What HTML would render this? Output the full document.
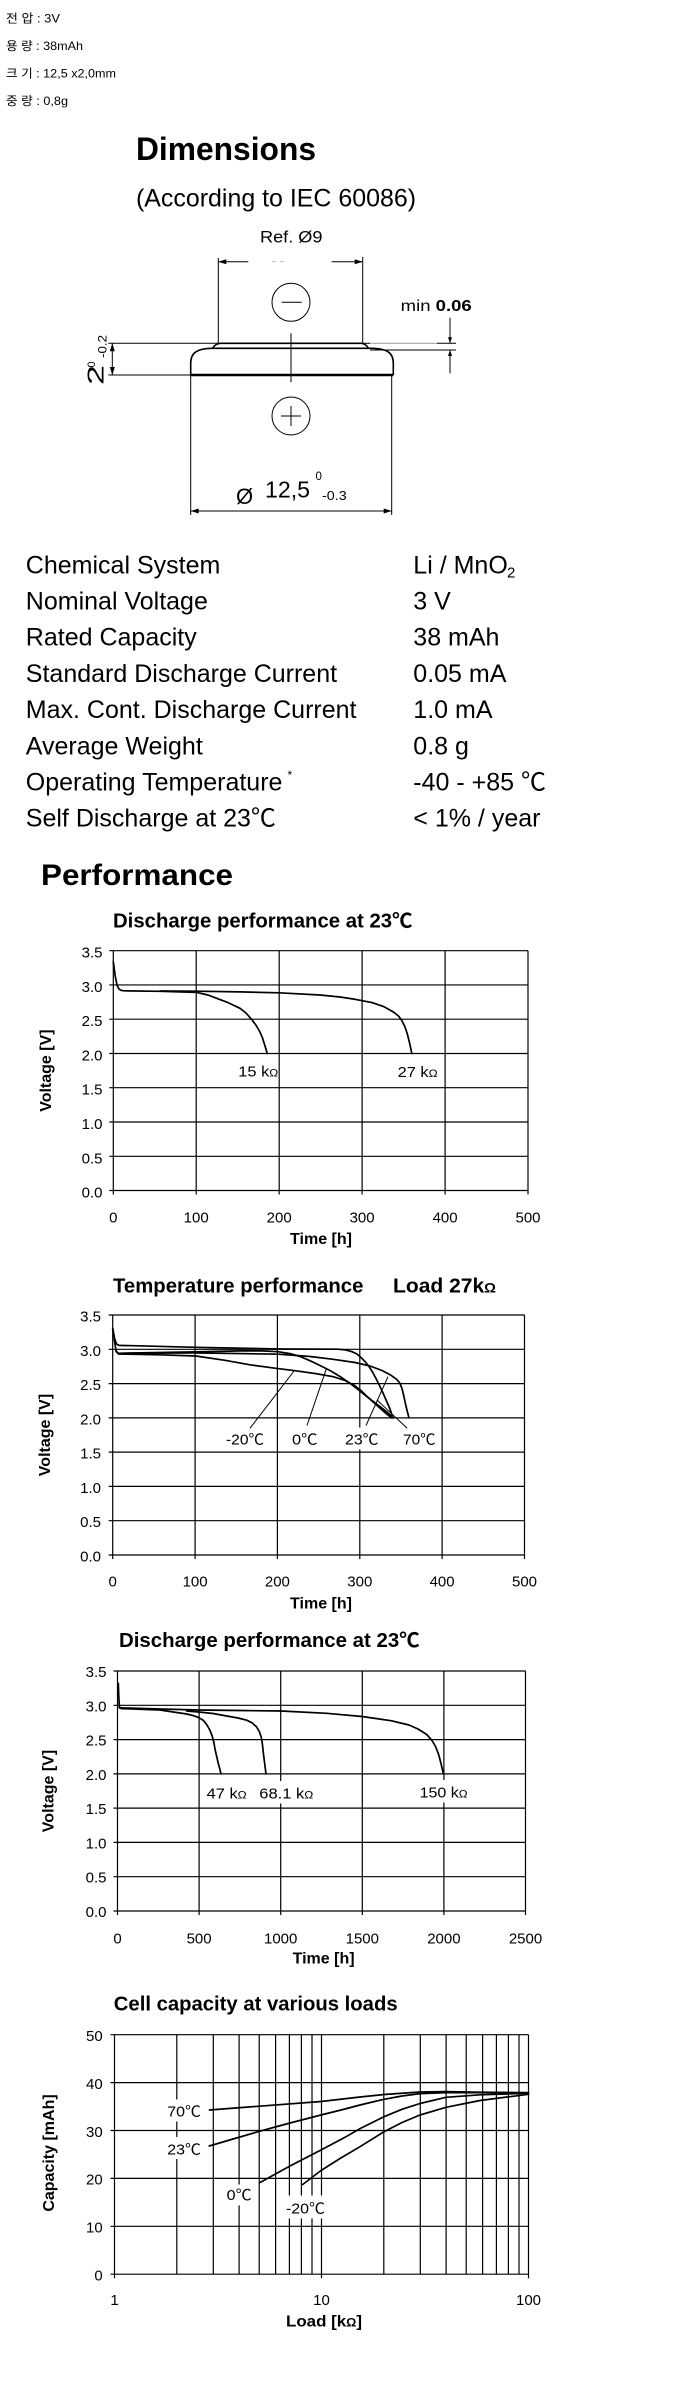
<!DOCTYPE html>
<html>
<head>
<meta charset="utf-8">
<style>
html,body{margin:0;padding:0;background:#fff;}
svg{display:block;}
text{font-family:"Liberation Sans","Noto Sans CJK KR",sans-serif;fill:#000;}
.b{font-weight:bold;}
.kr{font-family:"Liberation Sans","Noto Sans CJK KR",sans-serif;font-size:12px;}
.spec{font-size:25px;}
.tk{font-size:15px;}
.lb{font-size:15px;}
.grid line{stroke:#000;stroke-width:1.2;}
.crv{fill:none;stroke:#000;stroke-width:1.7;stroke-linejoin:round;stroke-linecap:round;}
.ld{stroke:#000;stroke-width:1;}
</style>
</head>
<body>
<svg width="700" height="2400" viewBox="0 0 700 2400" xmlns="http://www.w3.org/2000/svg">
<rect x="0" y="0" width="700" height="2400" fill="#fff"/>

<!-- Korean header -->
<text class="kr" x="6" y="22.7" textLength="54" lengthAdjust="spacingAndGlyphs">전 압 : 3V</text>
<text class="kr" x="6" y="50" textLength="77" lengthAdjust="spacingAndGlyphs">용 량 : 38mAh</text>
<text class="kr" x="6" y="77.5" textLength="110" lengthAdjust="spacingAndGlyphs">크 기 : 12,5 x2,0mm</text>
<text class="kr" x="6" y="104.8" textLength="62" lengthAdjust="spacingAndGlyphs">중 량 : 0,8g</text>

<!-- Dimensions -->
<text class="b" x="136" y="160" font-size="32" textLength="180" lengthAdjust="spacingAndGlyphs">Dimensions</text>
<text x="136" y="206.6" font-size="25" textLength="280" lengthAdjust="spacingAndGlyphs">(According to IEC 60086)</text>

<!-- Drawing -->
<text x="260" y="242.3" font-size="17" textLength="62.5" lengthAdjust="spacingAndGlyphs">Ref. Ø9</text>
<g stroke="#000" stroke-width="1" fill="none">
  <line x1="218.3" y1="258" x2="218.3" y2="343.3"/>
  <line x1="362.7" y1="257" x2="362.7" y2="343.3"/>
  <line x1="218.3" y1="261.7" x2="248.3" y2="261.7"/>
  <line x1="331.7" y1="261.7" x2="362.7" y2="261.7"/>
  <circle cx="291" cy="302.3" r="19"/>
  <line x1="281.7" y1="302.3" x2="301.7" y2="302.3"/>
  <circle cx="291" cy="416" r="19"/>
  <line x1="281" y1="416" x2="301" y2="416"/>
  <line x1="291" y1="406" x2="291" y2="426"/>
  <line x1="291" y1="333.3" x2="291" y2="382.3"/>
  <line x1="108.3" y1="343.3" x2="220" y2="343.3"/>
  <line x1="361.7" y1="343.3" x2="370" y2="343.3"/>
  <line x1="437" y1="343.3" x2="456" y2="343.3"/>
  <line x1="370" y1="350" x2="456" y2="350"/>
  <line x1="108.3" y1="375" x2="191" y2="375"/>
  <line x1="112.3" y1="343.3" x2="112.3" y2="375"/>
  <line x1="450" y1="317.7" x2="450" y2="343.3"/>
  <line x1="450" y1="350" x2="450" y2="373.3"/>
  <line x1="190.7" y1="375" x2="190.7" y2="515"/>
  <line x1="391.7" y1="375" x2="391.7" y2="515"/>
  <line x1="190.7" y1="511" x2="391.7" y2="511"/>
</g>
<line x1="370" y1="343.3" x2="437" y2="343.3" stroke="#999" stroke-width="1"/>
<line x1="272" y1="261.7" x2="276" y2="261.7" stroke="#bbb" stroke-width="1"/>
<line x1="280" y1="261.7" x2="284" y2="261.7" stroke="#bbb" stroke-width="1"/>
<!-- cap and body -->
<path d="M212.7,348 Q215,344 220,343.3 L361.7,343.3 Q366,344 368.3,348" fill="none" stroke="#000" stroke-width="1.6"/>
<path d="M190.7,375 L190.7,363 C190.7,352 198,348.6 212,348.3 L372,348.3 C386,348.6 393.3,352 393.3,363 L393.3,375" fill="none" stroke="#000" stroke-width="1.6"/>
<line x1="190.7" y1="375" x2="393.3" y2="375" stroke="#000" stroke-width="2.4"/>
<!-- arrowheads -->
<g fill="#000">
  <polygon points="218.3,261.7 226.3,259.2 226.3,264.2"/>
  <polygon points="362.7,261.7 354.7,259.2 354.7,264.2"/>
  <polygon points="112.3,343.3 109.8,351.3 114.8,351.3"/>
  <polygon points="112.3,375 109.8,367 114.8,367"/>
  <polygon points="450,343.3 448,337.3 452,337.3"/>
  <polygon points="450,350 448,356 452,356"/>
  <polygon points="190.7,511 198.7,508.5 198.7,513.5"/>
  <polygon points="391.7,511 383.7,508.5 383.7,513.5"/>
</g>
<text x="400.7" y="311" font-size="16" textLength="71" lengthAdjust="spacingAndGlyphs">min <tspan class="b">0.06</tspan></text>
<text transform="translate(103.3,385) rotate(-90)" font-size="23" textLength="20" lengthAdjust="spacingAndGlyphs">2</text>
<text transform="translate(95,367.5) rotate(-90)" font-size="11">0</text>
<text transform="translate(106.5,358) rotate(-90)" font-size="12" textLength="23" lengthAdjust="spacingAndGlyphs">-0.2</text>
<text x="236" y="504" font-size="22">Ø</text>
<text x="265" y="497.7" font-size="23" textLength="45" lengthAdjust="spacingAndGlyphs">12,5</text>
<text x="315.5" y="480" font-size="11.5">0</text>
<text x="322" y="500" font-size="12.5" textLength="24.7" lengthAdjust="spacingAndGlyphs">-0.3</text>

<!-- Spec table -->
<g class="spec">
<text x="25.8" y="573.3">Chemical System</text>
<text x="25.8" y="609.5">Nominal Voltage</text>
<text x="25.8" y="645.7">Rated Capacity</text>
<text x="25.8" y="681.9">Standard Discharge Current</text>
<text x="25.8" y="718.1">Max. Cont. Discharge Current</text>
<text x="25.8" y="754.3">Average Weight</text>
<text x="25.8" y="790.5">Operating Temperature</text>
<text x="25.8" y="826.7">Self Discharge at 23℃</text>
<text x="413.3" y="573.3">Li / MnO</text>
<text x="413.3" y="609.5">3 V</text>
<text x="413.3" y="645.7">38 mAh</text>
<text x="413.3" y="681.9">0.05 mA</text>
<text x="413.3" y="718.1">1.0 mA</text>
<text x="413.3" y="754.3">0.8 g</text>
<text x="413.3" y="790.5">-40 - +85 ℃</text>
<text x="413.3" y="826.7">&lt; 1% / year</text>
</g>
<text x="507" y="577.5" font-size="15">2</text>
<text x="287.5" y="779" font-size="12">*</text>

<!-- Performance -->
<text class="b" x="41" y="885" font-size="29.5" textLength="192" lengthAdjust="spacingAndGlyphs">Performance</text>

<!-- ============ CHART 1 ============ -->
<text class="b" x="113" y="927.3" font-size="20" textLength="299.4" lengthAdjust="spacingAndGlyphs">Discharge performance at 23℃</text>
<g class="grid">
  <line x1="109.3" y1="950.7" x2="528" y2="950.7"/>
  <line x1="109.3" y1="984.96" x2="528" y2="984.96"/>
  <line x1="109.3" y1="1019.2" x2="528" y2="1019.2"/>
  <line x1="109.3" y1="1053.5" x2="528" y2="1053.5"/>
  <line x1="109.3" y1="1087.7" x2="528" y2="1087.7"/>
  <line x1="109.3" y1="1122.0" x2="528" y2="1122.0"/>
  <line x1="109.3" y1="1156.3" x2="528" y2="1156.3"/>
  <line x1="109.3" y1="1190.5" x2="528" y2="1190.5"/>
  <line x1="113.3" y1="950.7" x2="113.3" y2="1194.5"/>
  <line x1="196.2" y1="950.7" x2="196.2" y2="1194.5"/>
  <line x1="279.2" y1="950.7" x2="279.2" y2="1194.5"/>
  <line x1="362.1" y1="950.7" x2="362.1" y2="1194.5"/>
  <line x1="445.1" y1="950.7" x2="445.1" y2="1194.5"/>
  <line x1="528" y1="950.7" x2="528" y2="1194.5"/>
</g>
<g class="tk" text-anchor="end">
  <text x="102.5" y="957.7">3.5</text>
  <text x="102.5" y="992">3.0</text>
  <text x="102.5" y="1026.2">2.5</text>
  <text x="102.5" y="1060.5">2.0</text>
  <text x="102.5" y="1094.7">1.5</text>
  <text x="102.5" y="1129">1.0</text>
  <text x="102.5" y="1163.3">0.5</text>
  <text x="102.5" y="1197.5">0.0</text>
</g>
<g class="tk" text-anchor="middle">
  <text x="113.3" y="1222.7">0</text>
  <text x="196.2" y="1222.7">100</text>
  <text x="279.2" y="1222.7">200</text>
  <text x="362.1" y="1222.7">300</text>
  <text x="445.1" y="1222.7">400</text>
  <text x="528" y="1222.7">500</text>
</g>
<text class="b" font-size="16" text-anchor="middle" transform="translate(51,1070.6) rotate(-90)">Voltage [V]</text>
<text class="b" font-size="16" text-anchor="middle" x="321" y="1243.8">Time [h]</text>
<polyline class="crv" points="113.3,961.7 115.2,976 117,985 118.8,988.8 121,990.3 124,990.8 160,991.3 196.7,992.4 208,995 216.7,998.3 228,1002.6 240,1008.3 246,1013 251.7,1019.5 256.2,1025.5 260,1032 262.5,1038 264.7,1045 267.3,1053.5"/>
<polyline class="crv" points="160,991 196.7,991.2 240,991.9 279.1,992.8 320,995 340,997 355.6,999.4 372,1002.6 384,1006.7 393,1011.7 398.5,1016 401.8,1020.5 404.8,1026.5 407.2,1033.5 409.6,1043 411.8,1053.5"/>
<text class="lb" x="238.3" y="1076.7" textLength="40" lengthAdjust="spacingAndGlyphs">15 k<tspan font-size="11">Ω</tspan></text>
<text class="lb" x="397.6" y="1077" textLength="40" lengthAdjust="spacingAndGlyphs">27 k<tspan font-size="11">Ω</tspan></text>

<!-- ============ CHART 2 ============ -->
<text class="b" x="113" y="1292.3" font-size="20" textLength="250.4" lengthAdjust="spacingAndGlyphs">Temperature performance</text>
<text class="b" x="393" y="1292.3" font-size="20" textLength="103" lengthAdjust="spacingAndGlyphs">Load 27k<tspan font-size="14">Ω</tspan></text>
<g class="grid">
  <line x1="108.7" y1="1315" x2="524.5" y2="1315"/>
  <line x1="108.7" y1="1349.3" x2="524.5" y2="1349.3"/>
  <line x1="108.7" y1="1383.6" x2="524.5" y2="1383.6"/>
  <line x1="108.7" y1="1417.9" x2="524.5" y2="1417.9"/>
  <line x1="108.7" y1="1452.1" x2="524.5" y2="1452.1"/>
  <line x1="108.7" y1="1486.4" x2="524.5" y2="1486.4"/>
  <line x1="108.7" y1="1520.7" x2="524.5" y2="1520.7"/>
  <line x1="108.7" y1="1555" x2="524.5" y2="1555"/>
  <line x1="112.7" y1="1315" x2="112.7" y2="1559"/>
  <line x1="195.1" y1="1315" x2="195.1" y2="1559"/>
  <line x1="277.4" y1="1315" x2="277.4" y2="1559"/>
  <line x1="359.8" y1="1315" x2="359.8" y2="1559"/>
  <line x1="442.1" y1="1315" x2="442.1" y2="1559"/>
  <line x1="524.5" y1="1315" x2="524.5" y2="1559"/>
</g>
<g class="tk" text-anchor="end">
  <text x="101" y="1321.5">3.5</text>
  <text x="101" y="1355.8">3.0</text>
  <text x="101" y="1390.1">2.5</text>
  <text x="101" y="1424.4">2.0</text>
  <text x="101" y="1458.6">1.5</text>
  <text x="101" y="1492.9">1.0</text>
  <text x="101" y="1527.2">0.5</text>
  <text x="101" y="1561.5">0.0</text>
</g>
<g class="tk" text-anchor="middle">
  <text x="112.7" y="1586.7">0</text>
  <text x="195.1" y="1586.7">100</text>
  <text x="277.4" y="1586.7">200</text>
  <text x="359.8" y="1586.7">300</text>
  <text x="442.1" y="1586.7">400</text>
  <text x="524.5" y="1586.7">500</text>
</g>
<text class="b" font-size="16" text-anchor="middle" transform="translate(50,1435) rotate(-90)">Voltage [V]</text>
<text class="b" font-size="16" text-anchor="middle" x="321" y="1608.3">Time [h]</text>
<rect x="343" y="1427.5" width="37.5" height="22" fill="#fff"/>
<polyline class="crv" points="112.7,1328.3 114.6,1338.5 116.5,1344 119,1345.4 133.3,1345.7 195.7,1347.3 278.3,1349 338,1349.2 346,1350 352,1351.7 357,1354 361,1357.5 365,1361.5 369,1366.5 372.5,1372 376,1378.5 379.5,1385.5 383,1393 386.5,1401 390,1409 393,1417.9"/>
<polyline class="crv" points="112.7,1328.3 114.5,1341 116.2,1351.5 118.5,1353.3 195.7,1352.9 278.3,1354.2 310,1356.5 333.3,1359.3 355,1362.5 370,1366 382,1370.5 391,1375.3 396.5,1379.2 399.8,1383 402,1388.5 403.8,1396 405.5,1404 407.2,1411 409,1417.9"/>
<polyline class="crv" points="116.2,1351.5 118.5,1353.3 195.7,1351.9 240,1350.9 262,1350.9 278,1351.7 290,1353.6 300,1356.5 310,1360.7 320,1365.5 330,1370.5 340,1376.5 350,1383.3 358,1389.5 366.7,1396.4 374,1402 381,1407.3 387,1412 393.3,1417.9"/>
<polyline class="crv" points="116.2,1351.5 118.5,1354 160,1354.8 195.7,1356 225,1360.3 250,1364.8 275,1368.2 295,1370.7 315,1373.5 333.3,1376.7 345,1380.5 354,1385.2 361,1390.5 367,1396.5 374,1402.8 381,1409 386,1413.5 391.7,1417.9"/>
<line class="ld" x1="250" y1="1428.3" x2="294" y2="1371"/>
<line class="ld" x1="307" y1="1425.5" x2="326.5" y2="1368.3"/>
<line class="ld" x1="366" y1="1425.5" x2="388" y2="1376.7"/>
<line class="ld" x1="407.2" y1="1428.3" x2="377" y2="1400"/>
<text class="lb" x="226" y="1444.5" textLength="38" lengthAdjust="spacingAndGlyphs">-20℃</text>
<text class="lb" x="292" y="1444.5" textLength="25.5" lengthAdjust="spacingAndGlyphs">0℃</text>
<text class="lb" x="345" y="1444.5" textLength="33.5" lengthAdjust="spacingAndGlyphs">23℃</text>
<text class="lb" x="403" y="1444.5" textLength="32.6" lengthAdjust="spacingAndGlyphs">70℃</text>

<!-- ============ CHART 3 ============ -->
<text class="b" x="119" y="1647" font-size="20" textLength="300.6" lengthAdjust="spacingAndGlyphs">Discharge performance at 23℃</text>
<g class="grid">
  <line x1="113.5" y1="1671" x2="525.5" y2="1671"/>
  <line x1="113.5" y1="1705.3" x2="525.5" y2="1705.3"/>
  <line x1="113.5" y1="1739.6" x2="525.5" y2="1739.6"/>
  <line x1="113.5" y1="1773.9" x2="525.5" y2="1773.9"/>
  <line x1="113.5" y1="1808.1" x2="525.5" y2="1808.1"/>
  <line x1="113.5" y1="1842.4" x2="525.5" y2="1842.4"/>
  <line x1="113.5" y1="1876.7" x2="525.5" y2="1876.7"/>
  <line x1="113.5" y1="1911" x2="525.5" y2="1911"/>
  <line x1="117.5" y1="1671" x2="117.5" y2="1915"/>
  <line x1="199.1" y1="1671" x2="199.1" y2="1915"/>
  <line x1="280.7" y1="1671" x2="280.7" y2="1915"/>
  <line x1="362.3" y1="1671" x2="362.3" y2="1915"/>
  <line x1="443.9" y1="1671" x2="443.9" y2="1915"/>
  <line x1="525.5" y1="1671" x2="525.5" y2="1915"/>
</g>
<g class="tk" text-anchor="end">
  <text x="106.5" y="1677">3.5</text>
  <text x="106.5" y="1711.3">3.0</text>
  <text x="106.5" y="1745.6">2.5</text>
  <text x="106.5" y="1779.9">2.0</text>
  <text x="106.5" y="1814.1">1.5</text>
  <text x="106.5" y="1848.4">1.0</text>
  <text x="106.5" y="1882.7">0.5</text>
  <text x="106.5" y="1917">0.0</text>
</g>
<g class="tk" text-anchor="middle">
  <text x="117.5" y="1943.3">0</text>
  <text x="199.1" y="1943.3">500</text>
  <text x="280.7" y="1943.3">1000</text>
  <text x="362.3" y="1943.3">1500</text>
  <text x="443.9" y="1943.3">2000</text>
  <text x="525.5" y="1943.3">2500</text>
</g>
<text class="b" font-size="16" text-anchor="middle" transform="translate(53.5,1791) rotate(-90)">Voltage [V]</text>
<text class="b" font-size="16" text-anchor="middle" x="323.6" y="1963.3">Time [h]</text>
<rect x="257.3" y="1781" width="58" height="22.5" fill="#fff"/>
<rect x="417.6" y="1780" width="52" height="22.5" fill="#fff"/>
<polyline class="crv" points="118.3,1683.3 118.8,1697 119.5,1707.8 121.5,1708.6 160,1710 186.7,1714 194,1715.8 199,1717.7 203.5,1720.5 207,1725 209.8,1730 212,1735.5 213.8,1742 215.2,1750 216.8,1757 218.3,1763.5 219.7,1768.5 221,1773.9"/>
<polyline class="crv" points="186.7,1711 199,1712 213,1713.5 226.7,1716 238,1718 246.7,1720.2 252,1722.8 256.5,1726.8 259.3,1731.5 261.2,1737 262.4,1744 263.4,1753.5 264.6,1763 266,1773.9"/>
<polyline class="crv" points="119.5,1707.8 160,1709 199,1710 240,1710.5 281.3,1711 326.7,1713.3 362,1716.5 391,1720.7 409,1725 418,1729 426.7,1734.5 432,1740.5 435.8,1747 438.8,1755 441,1763.5 443.4,1773.9"/>
<text class="lb" x="206.7" y="1798.3" textLength="40" lengthAdjust="spacingAndGlyphs">47 k<tspan font-size="11">Ω</tspan></text>
<text class="lb" x="259.3" y="1798.3" textLength="54" lengthAdjust="spacingAndGlyphs">68.1 k<tspan font-size="11">Ω</tspan></text>
<text class="lb" x="419.6" y="1797.5" textLength="48" lengthAdjust="spacingAndGlyphs">150 k<tspan font-size="11">Ω</tspan></text>

<!-- ============ CHART 4 ============ -->
<text class="b" x="113.8" y="2010.7" font-size="20" textLength="283.8" lengthAdjust="spacingAndGlyphs">Cell capacity at various loads</text>
<g class="grid">
  <line x1="110.5" y1="2034.7" x2="528.5" y2="2034.7"/>
  <line x1="110.5" y1="2082.6" x2="528.5" y2="2082.6"/>
  <line x1="110.5" y1="2130.5" x2="528.5" y2="2130.5"/>
  <line x1="110.5" y1="2178.4" x2="528.5" y2="2178.4"/>
  <line x1="110.5" y1="2226.3" x2="528.5" y2="2226.3"/>
  <line x1="110.5" y1="2274.2" x2="528.5" y2="2274.2"/>
  <line x1="114.5" y1="2034.7" x2="114.5" y2="2278.2"/>
  <line x1="176.8" y1="2034.7" x2="176.8" y2="2274.2"/>
  <line x1="213.3" y1="2034.7" x2="213.3" y2="2274.2"/>
  <line x1="239.1" y1="2034.7" x2="239.1" y2="2274.2"/>
  <line x1="259.2" y1="2034.7" x2="259.2" y2="2274.2"/>
  <line x1="275.6" y1="2034.7" x2="275.6" y2="2274.2"/>
  <line x1="289.4" y1="2034.7" x2="289.4" y2="2274.2"/>
  <line x1="301.4" y1="2034.7" x2="301.4" y2="2274.2"/>
  <line x1="312.0" y1="2034.7" x2="312.0" y2="2274.2"/>
  <line x1="321.5" y1="2034.7" x2="321.5" y2="2278.2"/>
  <line x1="383.8" y1="2034.7" x2="383.8" y2="2274.2"/>
  <line x1="420.3" y1="2034.7" x2="420.3" y2="2274.2"/>
  <line x1="446.1" y1="2034.7" x2="446.1" y2="2274.2"/>
  <line x1="466.2" y1="2034.7" x2="466.2" y2="2274.2"/>
  <line x1="482.6" y1="2034.7" x2="482.6" y2="2274.2"/>
  <line x1="496.4" y1="2034.7" x2="496.4" y2="2274.2"/>
  <line x1="508.4" y1="2034.7" x2="508.4" y2="2274.2"/>
  <line x1="519.0" y1="2034.7" x2="519.0" y2="2274.2"/>
  <line x1="528.5" y1="2034.7" x2="528.5" y2="2278.2"/>
</g>
<g class="tk" text-anchor="end">
  <text x="102.7" y="2041">50</text>
  <text x="102.7" y="2088.9">40</text>
  <text x="102.7" y="2136.8">30</text>
  <text x="102.7" y="2184.7">20</text>
  <text x="102.7" y="2232.6">10</text>
  <text x="102.7" y="2280.5">0</text>
</g>
<g class="tk" text-anchor="middle">
  <text x="114.5" y="2305">1</text>
  <text x="321.5" y="2305">10</text>
  <text x="528.5" y="2305">100</text>
</g>
<text class="b" font-size="16" text-anchor="middle" transform="translate(54,2153) rotate(-90)">Capacity [mAh]</text>
<text class="b" font-size="16" text-anchor="middle" x="324" y="2326.7" textLength="76" lengthAdjust="spacingAndGlyphs">Load [k<tspan font-size="12">Ω</tspan>]</text>
<rect x="165.3" y="2099.5" width="37.7" height="22" fill="#fff"/>
<rect x="165.3" y="2137" width="37.7" height="22" fill="#fff"/>
<rect x="224.7" y="2184.5" width="29" height="21" fill="#fff"/>
<rect x="284" y="2195.5" width="43" height="23" fill="#fff"/>
<polyline class="crv" points="209.5,2110 258,2106.3 321,2101.5 360,2097 384,2094.5 420,2092 446,2091.6 480,2092.2 528.5,2092.7"/>
<polyline class="crv" points="209.3,2146 233,2139 258,2131.7 290,2123 321,2115 345,2109 360,2105 384,2099.3 402,2096 420,2093.6 446,2092.6 528.5,2092.7"/>
<polyline class="crv" points="260,2182.5 290,2166 321,2150 345,2137.3 360,2128.6 384,2116.7 402,2109.3 420,2103.5 446,2097.3 480,2094.8 528.5,2093.3"/>
<polyline class="crv" points="302.7,2184.5 321,2170.5 340,2158.5 360,2146.7 384,2131.7 402,2122.5 420,2115 446,2107.3 480,2100.5 528.5,2094.3"/>
<text class="lb" x="167.3" y="2116.7" textLength="33.7" lengthAdjust="spacingAndGlyphs">70℃</text>
<text class="lb" x="167.3" y="2154.3" textLength="33.7" lengthAdjust="spacingAndGlyphs">23℃</text>
<text class="lb" x="226.7" y="2200" textLength="25" lengthAdjust="spacingAndGlyphs">0℃</text>
<text class="lb" x="286" y="2213.3" textLength="39" lengthAdjust="spacingAndGlyphs">-20℃</text>
</svg>
</body>
</html>
